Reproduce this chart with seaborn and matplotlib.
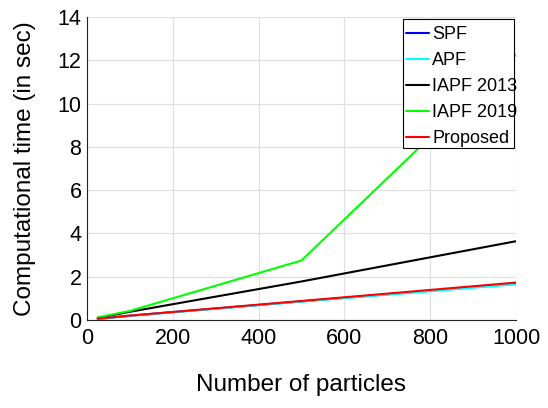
import matplotlib
matplotlib.use("Agg")
import matplotlib.pyplot as plt
from matplotlib.patches import Rectangle
from matplotlib.ticker import AutoMinorLocator, MultipleLocator
import pandas as pd
import seaborn as sns

# Particle counts and run times (seconds) for each filter
particles = [25, 100, 500, 1000]
spf = [0.05, 0.20, 0.86, 1.68]
apf = [0.05, 0.19, 0.85, 1.65]
iapf_2013 = [0.10, 0.38, 1.78, 3.64]
iapf_2019 = [0.12, 0.42, 2.75, 12.25]
proposed = [0.06, 0.20, 0.88, 1.73]

methods = ["SPF", "APF", "IAPF 2013", "IAPF 2019", "Proposed"]
colors = ["#0000ff", "#00ffff", "#000000", "#00ff00", "#ff0000"]

series = {"SPF": spf, "APF": apf, "IAPF 2013": iapf_2013,
          "IAPF 2019": iapf_2019, "Proposed": proposed}
df = pd.concat(
    [pd.DataFrame({"N": particles, "t": vals, "method": name})
     for name, vals in series.items()],
    ignore_index=True,
)

sns.set_style("white")
plt.rcParams["font.family"] = ["Liberation Sans", "DejaVu Sans"]
plt.rcParams["text.color"] = "black"
plt.rcParams["axes.labelcolor"] = "black"

W, H = 548, 408
fig = plt.figure(figsize=(W / 100, H / 100), dpi=100)
ax = fig.add_axes([87 / W, 1 - 320 / H, 429 / W, 303 / H])

sns.lineplot(data=df, x="N", y="t", hue="method", hue_order=methods,
             palette=dict(zip(methods, colors)), linewidth=1.5, ax=ax,
             legend=True)

ax.set_xlim(0, 1000)
ax.set_ylim(0, 14)
ax.xaxis.set_major_locator(MultipleLocator(200))
ax.yaxis.set_major_locator(MultipleLocator(2))
ax.xaxis.set_minor_locator(AutoMinorLocator(5))
ax.yaxis.set_minor_locator(AutoMinorLocator(5))
ax.grid(True, which="major", color="#e0e0e0", linewidth=0.9)
ax.set_axisbelow(True)

for side in ("top", "right"):
    ax.spines[side].set_visible(False)
for side in ("left", "bottom"):
    ax.spines[side].set_color("#222222")
    ax.spines[side].set_linewidth(0.8)

ax.tick_params(which="both", direction="in", colors="#222222",
               labelcolor="black", labelsize=15.5, width=0.7)
ax.tick_params(which="major", length=4)
ax.tick_params(which="minor", length=2)
ax.tick_params(axis="x", which="major", pad=6)
ax.tick_params(axis="y", which="major", pad=4)

ax.set_xlabel("Number of particles", fontsize=17.5, labelpad=18,
              color="black")
ax.set_ylabel("Computational time (in sec)", fontsize=17.5, labelpad=15.5,
              color="black")

# Legend entries sit in a plain box; long labels run slightly past its edge
handles, labels = ax.get_legend_handles_labels()
ax.get_legend().remove()
box = Rectangle((403 / W, 1 - 148 / H), 111 / W, 129 / H,
                transform=fig.transFigure, facecolor="white",
                edgecolor="black", linewidth=0.8, zorder=4)
fig.add_artist(box)
leg = fig.legend(handles, labels, loc="upper left",
                 bbox_to_anchor=(406 / W, 1 - 26 / H), fontsize=13,
                 frameon=False, handlelength=1.28, handletextpad=0.17,
                 borderpad=0.0, labelspacing=0.5, borderaxespad=0.0,
                 labelcolor="black")
leg.set_zorder(5)
for line in leg.get_lines():
    line.set_linewidth(1.5)

fig.savefig("out.png", dpi=100)
